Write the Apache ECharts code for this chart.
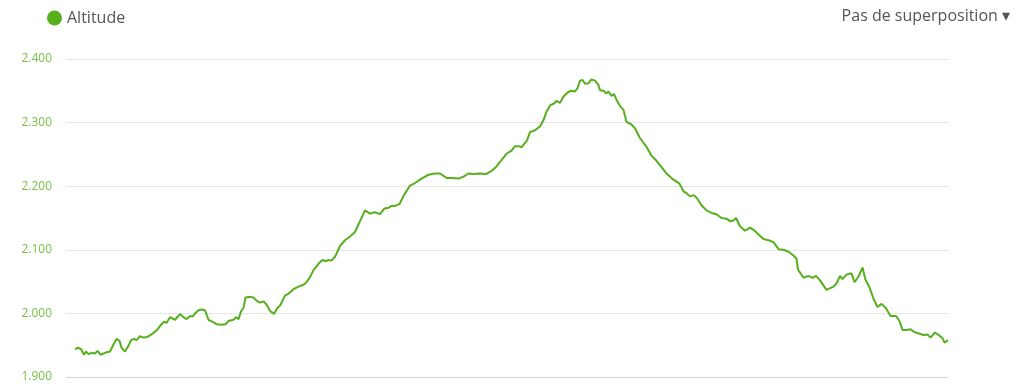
<!DOCTYPE html>
<html>
<head>
<meta charset="utf-8">
<script src="https://cdn.jsdelivr.net/npm/echarts@6/dist/echarts.min.js"></script>
<style>
html,body{margin:0;padding:0;background:#fff;}
#chart{width:1021px;height:384px;}
</style>
</head>
<body>
<div id="chart"></div>
<script>
// distance along route (km, estimated) and altitude (m)
const distanceKm = [0.18,0.25,0.31,0.36,0.40,0.45,0.51,0.58,0.63,0.69,0.78,0.81,0.88,0.95,1.01,1.07,1.11,1.18,1.25,1.30,1.36,1.41,1.48,1.55,1.63,1.71,1.81,1.91,1.96,2.01,2.08,2.18,2.28,2.35,2.41,2.48,2.53,2.58,2.65,2.71,2.78,2.85,2.95,3.01,3.11,3.19,3.25,3.35,3.40,3.45,3.50,3.55,3.59,3.68,3.75,3.81,3.85,3.88,3.95,4.01,4.08,4.16,4.23,4.28,4.38,4.45,4.55,4.65,4.75,4.81,4.88,4.95,5.05,5.13,5.20,5.25,5.31,5.38,5.48,5.58,5.68,5.78,5.88,5.98,6.08,6.18,6.28,6.37,6.45,6.51,6.58,6.67,6.76,6.88,6.98,7.11,7.25,7.38,7.48,7.61,7.73,7.85,7.95,8.05,8.15,8.27,8.40,8.51,8.61,8.71,8.81,8.91,8.98,9.05,9.11,9.18,9.22,9.28,9.38,9.48,9.55,9.61,9.68,9.76,9.81,9.88,9.95,10.03,10.09,10.18,10.23,10.28,10.33,10.38,10.45,10.51,10.58,10.65,10.68,10.75,10.80,10.85,10.91,10.96,11.01,11.08,11.15,11.21,11.31,11.38,11.47,11.55,11.61,11.71,11.81,11.91,12.01,12.12,12.27,12.35,12.41,12.48,12.56,12.63,12.71,12.81,12.91,13.01,13.11,13.21,13.28,13.35,13.40,13.48,13.58,13.68,13.76,13.85,13.95,14.05,14.15,14.25,14.35,14.45,14.55,14.61,14.64,14.75,14.85,14.93,15.00,15.08,15.21,15.35,15.41,15.48,15.53,15.61,15.71,15.77,15.85,15.93,15.99,16.07,16.15,16.23,16.31,16.40,16.49,16.60,16.67,16.73,16.81,16.89,16.96,17.07,17.15,17.23,17.29,17.38,17.47,17.53,17.57,17.64];
const altitude = [1944,1946,1943,1935,1940,1936,1938,1937,1941,1935,1938,1935,1940,1951,1960,1957,1946,1940,1949,1958,1960,1958,1964,1962,1963,1967,1973,1983,1987,1985,1994,1990,1999,1994,1991,1996,1995,2000,2005,2006,2005,1990,1986,1983,1982,1983,1988,1990,1994,1991,2003,2009,2025,2026,2025,2020,2023,2017,2019,2014,2004,1999,2009,2012,2028,2031,2038,2042,2045,2049,2057,2068,2078,2084,2082,2084,2083,2089,2106,2115,2121,2128,2145,2162,2157,2159,2156,2165,2166,2169,2169,2172,2186,2201,2205,2212,2218,2220,2220,2213,2213,2212,2215,2220,2219,2220,2219,2224,2231,2241,2251,2256,2263,2263,2261,2268,2272,2285,2288,2294,2304,2317,2327,2330,2334,2331,2341,2347,2350,2349,2354,2366,2367,2361,2362,2368,2366,2359,2351,2350,2346,2349,2342,2345,2336,2326,2320,2301,2297,2291,2277,2268,2262,2248,2240,2230,2220,2212,2204,2192,2189,2184,2186,2180,2170,2162,2158,2156,2150,2149,2145,2146,2150,2137,2130,2135,2131,2124,2117,2115,2112,2101,2100,2097,2091,2086,2069,2056,2059,2056,2059,2052,2037,2042,2047,2059,2054,2061,2063,2049,2058,2072,2053,2041,2023,2010,2015,2008,1996,1996,1988,1974,1974,1975,1971,1968,1966,1967,1962,1970,1965,1961,1954,1958];
const yTicks = {min: 1900, max: 2400, step: 100};
const seriesName = 'Altitude';
const overlayLabel = 'Pas de superposition ▾';

const chart = echarts.init(document.getElementById('chart'), null, {renderer: 'canvas'});
const points = distanceKm.map((d, i) => [d, altitude[i]]);
chart.setOption({
  animation: false,
  backgroundColor: '#ffffff',
  textStyle: {fontFamily: 'Open Sans'},
  grid: {left: 66, right: 73, top: 59, bottom: 7, containLabel: false},
  legend: {
    data: [seriesName],
    left: 42, top: 5,
    icon: 'circle', itemWidth: 15, itemHeight: 15, itemGap: 5,
    textStyle: {fontSize: 16, color: '#555555', fontFamily: 'Open Sans'}
  },
  title: {
    text: overlayLabel,
    right: 6, top: 3,
    textStyle: {fontSize: 16, fontWeight: 'normal', color: '#555555', fontFamily: 'Open Sans'}
  },
  xAxis: {
    type: 'value', min: 0, max: 17.64,
    axisLine: {show: false}, axisTick: {show: false}, axisLabel: {show: false}, splitLine: {show: false}
  },
  yAxis: {
    type: 'value', min: yTicks.min, max: yTicks.max, interval: yTicks.step,
    axisLine: {show: false}, axisTick: {show: false},
    axisLabel: {
      color: '#77c043', fontSize: 12, fontFamily: 'Open Sans', margin: 14,
      formatter: v => String(v).replace(/\B(?=(\d{3})+(?!\d))/g, '.')
    },
    splitLine: {lineStyle: {color: '#e6e6e6', width: 1}}
  },
  series: [{
    name: seriesName, type: 'line', data: points,
    showSymbol: false, symbol: 'none',
    lineStyle: {color: '#56b01e', width: 2},
    itemStyle: {color: '#56b01e'},
    markLine: {
      silent: true, symbol: 'none', label: {show: false},
      lineStyle: {color: '#ccd6eb', type: 'solid', width: 1},
      data: [{yAxis: yTicks.min}]
    }
  }]
});
</script>
</body>
</html>
